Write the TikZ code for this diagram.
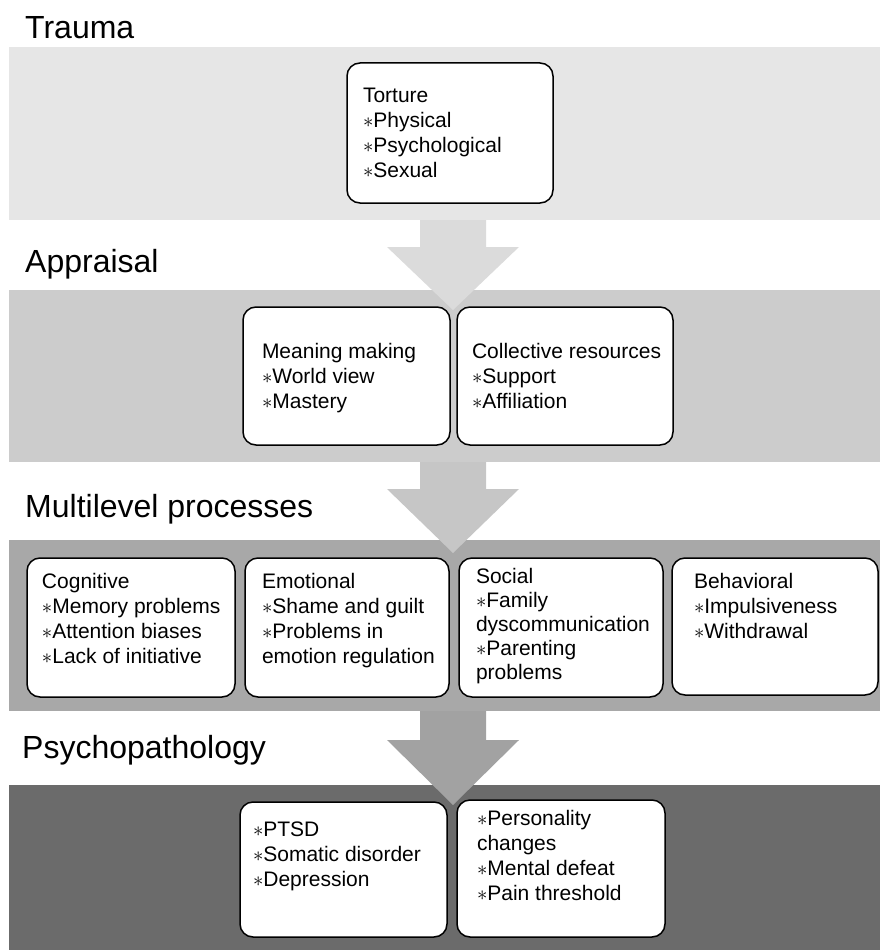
\documentclass[tikz,border=0pt]{standalone}
\usepackage{fontspec}
\setmainfont{Liberation Sans}
\usepackage{tikz}

\definecolor{bandtrauma}{HTML}{E6E6E6}
\definecolor{bandappr}{HTML}{CCCCCC}
\definecolor{bandproc}{HTML}{A8A8A8}
\definecolor{bandpath}{HTML}{6B6B6B}
\definecolor{arrtrauma}{HTML}{DBDBDB}
\definecolor{arrappr}{HTML}{C6C6C6}
\definecolor{arrproc}{HTML}{A2A2A2}

\newcommand{\stari}{$\ast$}
% height, width, left pad, top gap, lines
\newcommand{\cardtxt}[5]{\parbox[t][#1pt][t]{#2pt}{\fontsize{21}{25}\selectfont\raggedright\leftskip=#3pt\vspace*{#4pt}#5}}

\begin{document}
\begin{tikzpicture}[x=1pt,y=-1pt,
  band/.style={anchor=north west,inner sep=0pt,outer sep=0pt,minimum width=871pt},
  card/.style={draw=black,fill=white,line width=1.5pt,rounded corners=13pt,anchor=north west,inner sep=0pt,outer sep=0pt},
  title/.style={anchor=base west,inner sep=0pt,font=\fontsize{32}{38}\selectfont}]
\useasboundingbox (0,0) rectangle (880,950);

\node[band,fill=bandtrauma,minimum height=173pt] (btrauma) at (9,47) {};
\node[band,fill=bandappr,minimum height=172pt] (bappr) at (9,290) {};
\node[band,fill=bandproc,minimum height=171pt] (bproc) at (9,540) {};
\node[band,fill=bandpath,minimum height=165pt] (bpath) at (9,785) {};

\coordinate (a1) at (420,220);
\coordinate (a2) at (486,220);
\coordinate (a3) at (486,247);
\coordinate (a4) at (519,247);
\coordinate (a5) at (453,310);
\coordinate (a6) at (387,247);
\coordinate (a7) at (420,247);

\coordinate (b1) at (420,462);
\coordinate (b2) at (486,462);
\coordinate (b3) at (486,489);
\coordinate (b4) at (519,489);
\coordinate (b5) at (453,553);
\coordinate (b6) at (387,489);
\coordinate (b7) at (420,489);

\coordinate (c1) at (420,711);
\coordinate (c2) at (486,711);
\coordinate (c3) at (486,740);
\coordinate (c4) at (519,740);
\coordinate (c5) at (453,805);
\coordinate (c6) at (387,740);
\coordinate (c7) at (420,740);

\fill[arrtrauma] (a1) -- (a2) -- (a3) -- (a4) -- (a5) -- (a6) -- (a7) -- cycle;
\fill[arrappr] (b1) -- (b2) -- (b3) -- (b4) -- (b5) -- (b6) -- (b7) -- cycle;
\fill[arrproc] (c1) -- (c2) -- (c3) -- (c4) -- (c5) -- (c6) -- (c7) -- cycle;

\node[title] (ttrauma) at (25,39) {Trauma};
\node[title] (tappr) at (25,272) {Appraisal};
\node[title] (tproc) at (25,517) {Multilevel processes};
\node[title] (tpath) at (22,758) {Psychopathology};

\node[card] (torture) at (347,63)
  {\cardtxt{140}{206}{16}{25}{Torture\\\stari Physical\\\stari Psychological\\\stari Sexual}};

\node[card] (meaning) at (243,307)
  {\cardtxt{138}{207}{19}{36}{Meaning making\\\stari World view\\\stari Mastery}};
\node[card] (collective) at (457,307)
  {\cardtxt{138}{216}{15}{36}{Collective resources\\\stari Support\\\stari Affiliation}};

\node[card] (cognitive) at (27,558)
  {\cardtxt{139}{208}{15}{15}{Cognitive\\\stari Memory problems\\\stari Attention biases\\\stari Lack of initiative}};
\node[card] (emotional) at (245,558)
  {\cardtxt{139}{204}{17}{15}{Emotional\\\stari Shame and guilt\\\stari Problems in\\emotion regulation}};
\node[card] (social) at (459,558)
  {\cardtxt{139}{204}{17}{10}{\fontsize{21}{24}\selectfont Social\\\stari Family\\dyscommunication\\\stari Parenting\\problems}};
\node[card] (behavioral) at (672,558)
  {\cardtxt{137}{206}{22}{15}{Behavioral\\\stari Impulsiveness\\\stari Withdrawal}};

\node[card] (ptsd) at (240,802)
  {\cardtxt{135}{207}{13}{20}{\stari PTSD\\\stari Somatic disorder\\\stari Depression}};
\node[card] (personality) at (457,800)
  {\cardtxt{137}{208}{20}{10}{\stari Personality\\changes\\\stari Mental defeat\\\stari Pain threshold}};

\end{tikzpicture}
\end{document}
